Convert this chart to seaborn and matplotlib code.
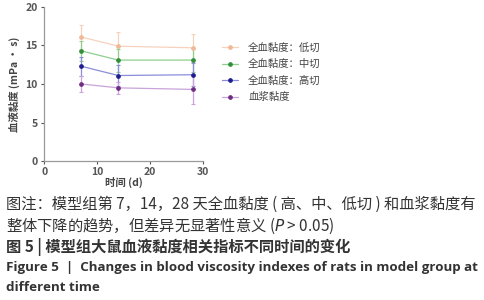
import numpy as np
import pandas as pd
import matplotlib.pyplot as plt
import seaborn as sns

days = [7, 14, 28]
series = ["全血黏度：低切", "全血黏度：中切", "全血黏度：高切", "血浆黏度"]
low_mean = [16.1, 14.9, 14.7]
low_sd = [1.5, 1.8, 1.8]
mid_mean = [14.3, 13.1, 13.1]
mid_sd = [1.3, 1.5, 1.6]
high_mean = [12.3, 11.1, 11.2]
high_sd = [1.2, 1.4, 1.5]
plasma_mean = [10.0, 9.5, 9.3]
plasma_sd = [1.1, 0.8, 1.9]

line_colors = ["#f6d2bd", "#8fcf8f", "#8c8cdc", "#c9a3d9"]
marker_colors = ["#f0b898", "#2f8f3a", "#1c1c90", "#6d2c80"]

means = [low_mean, mid_mean, high_mean, plasma_mean]
sds = [low_sd, mid_sd, high_sd, plasma_sd]

df = pd.DataFrame({
    "day": days * 4,
    "group": [s for s in series for _ in days],
    "value": sum(means, []),
    "sd": sum(sds, []),
})

sns.set_style("ticks")
plt.rcParams["font.family"] = ["Noto Sans CJK SC", "DejaVu Sans"]

fig = plt.figure(figsize=(4.85, 3.0), dpi=100)
ax = fig.add_axes([0.091, 0.463, 0.328, 0.514])

for name, lc, mc in zip(series, line_colors, marker_colors):
    sub = df[df["group"] == name]
    ax.errorbar(sub["day"], sub["value"], yerr=sub["sd"], fmt="none",
                ecolor=lc, elinewidth=0.9, capsize=1.5, capthick=0.8, zorder=1)
    sns.lineplot(data=sub, x="day", y="value", ax=ax, color=lc, lw=0.9,
                 marker="o", markersize=2.6, markerfacecolor=mc,
                 markeredgecolor=mc, label=name, zorder=2)

ax.set_xlim(0, 30)
ax.set_ylim(0, 20)
ax.set_xticks([0, 10, 20, 30])
ax.set_yticks([0, 5, 10, 15, 20])
ax.tick_params(labelsize=7.5, colors="#555555", length=2.5, width=0.8, pad=2)
for lab in ax.get_xticklabels() + ax.get_yticklabels():
    lab.set_fontweight("bold")
for s in ["left", "bottom"]:
    ax.spines[s].set_color("#999999")
    ax.spines[s].set_linewidth(0.9)
sns.despine(ax=ax)
ax.set_xlabel("时间 (d)", fontsize=7.5, color="#444444", labelpad=0, fontweight="bold")
ax.set_ylabel("血液黏度 (mPa • s)", fontsize=7.5, color="#444444", labelpad=4, fontweight="bold")

leg = ax.legend(loc="upper left", bbox_to_anchor=(1.06, 0.83), frameon=False,
                fontsize=7.5, handlelength=1.5, labelspacing=0.62, handletextpad=1.0)
for t in leg.get_texts():
    t.set_color("#444444")

cap_color = "#333333"
fig.text(0.012, 0.318, "图注：模型组第 7，14，28 天全血黏度 ( 高、中、低切 ) 和血浆黏度有",
         fontsize=11, color=cap_color, va="center")
fig.text(0.012, 0.247, "整体下降的趋势，但差异无显著性意义 ($\\it{P}$ > 0.05)",
         fontsize=11, color=cap_color, va="center")
fig.text(0.012, 0.177, "图 5 | 模型组大鼠血液黏度相关指标不同时间的变化",
         fontsize=11, color=cap_color, va="center", fontweight="bold")
fig.text(0.012, 0.110, "Figure 5  |  Changes in blood viscosity indexes of rats in model group at",
         fontsize=9.65, color=cap_color, va="center", fontweight="bold",
         family=["Open Sans", "DejaVu Sans"])
fig.text(0.012, 0.043, "different time",
         fontsize=9.65, color=cap_color, va="center", fontweight="bold",
         family=["Open Sans", "DejaVu Sans"])

fig.savefig("out.png", dpi=100)
